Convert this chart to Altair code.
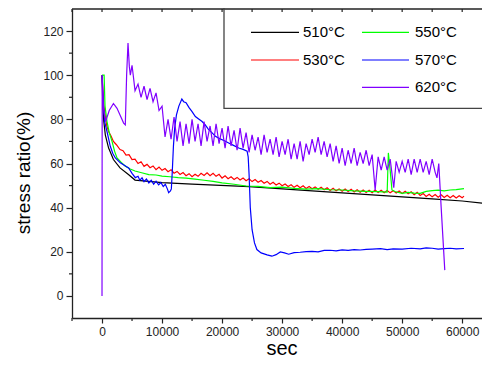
import altair as alt
import pandas as pd

# ---------------- data ----------------
t510 = [0, 150, 300, 550, 1100, 1900, 3000, 4400, 5500, 10000, 15000, 24500, 35000, 45000, 55000, 60000, 65000]
v510 = [100, 85, 79, 73, 67, 61.8, 58, 55, 52.5, 51.3, 50.7, 49.5, 47.6, 45.8, 44, 43, 41.6]

t530 = [0, 300, 550, 800, 1100, 1500, 1900, 2400, 3000, 3500, 4000, 4500, 5000, 5500, 6000, 6500,
        7000, 7500, 8000, 8500, 9000, 9500, 10000, 10500, 11000, 11500, 12000, 12500, 13000, 13500,
        14000, 14500, 15000, 15500, 16000, 16500, 17000, 17500, 18000, 18500, 19000, 19500, 20000,
        20500, 21000, 21500, 22000, 22500, 23000, 23500, 24000, 24500, 25000, 25500, 26000, 26500,
        27000, 27500, 28000, 28500, 29000, 29500, 30000, 30500, 31000, 31500, 32000, 32500, 33000,
        33500, 34000, 34500, 35000, 35500, 36000, 36500, 37000, 37500, 38000, 38500, 39000, 39500,
        40000, 40500, 41000, 41500, 42000, 42500, 43000, 43500, 44000, 44500, 45000, 45500, 46000,
        46500, 47000, 47500, 48000, 48500, 49000, 49500, 50000, 50500, 51000, 51500, 52000, 52500,
        53000, 53500, 54000, 54500, 55000, 55500, 56000, 56500, 57000, 57500, 58000, 58500, 59000,
        59500, 60000, 60300]
v530 = [100, 86, 81.3, 77, 74.5, 72.5, 70, 68.5, 66.3, 65.8, 63.8, 64, 61.8, 62, 60, 60.8,
        58.7, 59.6, 58.1, 58.9, 57.2, 58.4, 56.9, 57.7, 56.3, 57.2, 55.6, 56.4, 55, 55.9,
        54.5, 55.4, 54, 55.1, 54.2, 55.6, 54.6, 55.8, 54.5, 55.6, 54.2, 55.1, 53.4,
        54.4, 53.1, 54, 52.8, 53.7, 52.5, 53.4, 52.2, 53.1, 51.8, 52.7, 51.5, 52.3,
        51.1, 51.9, 50.6, 51.5, 50.3, 51.1, 49.9, 50.7, 49.6, 50.4, 49.2, 50.1, 49,
        49.9, 48.7, 49.6, 48.6, 49.4, 48.3, 49.2, 48.1, 49, 47.8, 48.8, 47.6, 48.5,
        47.4, 48.4, 47.3, 48.3, 47.1, 48.1, 47, 48, 46.9, 47.9, 46.8, 48, 46.9,
        47.9, 46.8, 47.8, 46.7, 47.7, 46.6, 47.5, 46.4, 47.4, 46.3, 47.2, 45.9, 46.9,
        45.5, 46.4, 45.1, 46.1, 44.9, 45.9, 44.7, 45.8, 44.6, 45.6, 44.5, 45.5, 44.4,
        45.4, 44.5, 45.2]

t550 = [0, 350, 500, 830, 1200, 1670, 2100, 2500, 3200, 3900, 4700, 5500, 6600, 7800, 9000, 10000,
        11300, 12700, 14000, 15500, 17000, 18500, 20000, 22000, 24000, 26000, 28000, 30000, 32000,
        34000, 36000, 38000, 40000, 42000, 44000, 46000, 47500, 47700, 48000, 48300, 48800, 50000,
        51000, 52000, 53000, 54000, 55000, 56000, 57000, 58000, 59000, 60300]
v550 = [100, 100, 86, 79, 74, 70, 65.5, 62.5, 60.5, 58.8, 57.5, 56.6, 55.8, 55, 54.8, 54.3,
        54, 53.6, 53.4, 52.9, 52.4, 51.9, 51.2, 50.6, 49.8, 49.6, 49.1, 49.3, 48.7,
        48.4, 48.6, 48.1, 48, 47.6, 47.4, 47.3, 47, 64.8, 57, 48, 47.3, 46.5,
        46.9, 46.6, 46.5, 47.4, 47.7, 47.9, 47.6, 48, 48.2, 48.6]

t570 = [0, 200, 430, 830, 1380, 1800, 2220, 3050, 3700, 4430, 5000, 5550, 6000, 6300, 6670, 7000,
        7400, 7800, 8200, 8600, 9000, 9430, 9800, 10200, 10550, 10900, 11100, 11400, 11550, 11700,
        11900, 12100, 12400, 12800, 13300, 13600, 14000, 14500, 15000, 15550, 16100, 16670, 17200,
        17700, 18300, 18900, 19500, 20300, 21100, 21900, 22770, 23500, 24170, 24350, 24500, 24700,
        25000, 25400, 25800, 26500, 27500, 28300, 29000, 29700, 30400, 31100, 32000, 33000, 34000,
        35000, 36000, 37000, 38000, 39000, 40000, 41000, 42000, 43000, 44000, 45000, 46400, 47500,
        48500, 50000, 51500, 53000, 54000, 55000, 56000, 57000, 58000, 59000, 60300]
v570 = [100, 88, 79, 74.5, 67.8, 64.5, 62.5, 60.3, 59.2, 58, 55.5, 53.6, 54.2, 52.4, 53.5, 51.8,
        53, 51.2, 52.4, 50.6, 52, 50.3, 51.4, 49.6, 50.6, 48.4, 46.8, 47.6, 48.5, 56,
        68, 76, 82, 86, 89.2, 88, 87.5, 85.3, 83.5, 81.3, 80.2, 79, 77.5,
        75.6, 74, 72.3, 71.4, 70.4, 69.3, 68.2, 67, 66.4, 65.6, 63, 55, 40,
        30, 24, 21, 19.5, 18.6, 18, 18.7, 19.9, 19.5, 18.9, 19.6, 19.8, 20.1,
        20.2, 20, 20.6, 20.7, 20.4, 20.9, 20.6, 21, 20.8, 21.1, 21.2, 21.4, 21,
        21.3, 21.2, 21.6, 21.3, 21.8, 21.6, 21.2, 21.4, 21.6, 21.3, 21.5]

t620 = [0, 30, 250, 600, 1200, 1900, 2500, 3000, 3600, 3880, 4100, 4330, 4550, 4720, 5000, 5200,
        5500, 6000, 6500, 7000, 7500, 8000, 8500, 9000, 9500, 10000, 10500, 11000, 11500, 12000,
        12500, 13000, 13500, 14000, 14500, 15000, 15500, 16000, 16500, 17000, 17500, 18000, 18500,
        19000, 19500, 20000, 20500, 21000, 21500, 22000, 22500, 23000, 23500, 24000, 24500, 25000,
        25500, 26000, 26500, 27000, 27500, 28000, 28500, 29000, 29500, 30000, 30500, 31000, 31500,
        32000, 32500, 33000, 33500, 34000, 34500, 35000, 35500, 36000, 36500, 37000, 37500, 38000,
        38500, 39000, 39500, 40000, 40500, 41000, 41500, 42000, 42500, 43000, 43500, 44000, 44500,
        45000, 45500, 46000, 46500, 47000, 47500, 48000, 48600, 49000, 49500, 50000, 50500, 51000,
        51500, 52000, 52500, 53000, 53500, 54000, 54500, 55000, 55500, 55800, 56100, 56500, 57100]
v620 = [0, 100, 85, 79, 84, 87.2, 85, 82, 78.3, 77.5, 100, 114.6, 104, 100, 104.5, 100,
        93, 96, 90, 95, 89, 94, 88, 92, 84, 86, 72, 80, 71, 81,
        70, 79, 68, 78, 69, 80, 70, 78, 68, 79, 70, 77, 68,
        78, 69, 76, 67, 77, 68, 75, 66, 76, 67, 74, 65, 73,
        66, 72, 64, 73, 65, 71, 64, 72, 63, 70, 64, 71, 62,
        69, 62, 70, 61, 69, 64, 71, 65, 72, 64, 70, 63, 69,
        61, 68, 60, 67, 59, 66, 60, 67, 59, 65, 60, 66, 59,
        64, 48, 63, 57, 63, 57, 62, 49, 61, 56, 61, 56, 62,
        55, 62, 56, 62, 56, 61, 55, 62, 56, 53.5, 60, 40, 11.7]

labels = ["510°C", "530°C", "550°C", "570°C", "620°C"]
colors = ["#000000", "#ff0000", "#00ff00", "#0000ff", "#8000ff"]

x_major = [0, 10000, 20000, 30000, 40000, 50000, 60000]
x_minor = [-5000, 5000, 15000, 25000, 35000, 45000, 55000]
x_top = [-5000, 0, 5000, 10000, 15000, 20000, 25000, 30000, 35000, 40000, 45000, 50000, 55000, 60000]
y_major = [0, 20, 40, 60, 80, 100, 120]
y_minor = [10, 30, 50, 70, 90, 110]

x_title = "sec"
y_title = "stress ratio(%)"

# legend layout (column-wise, as in the original)
leg_label = labels
leg_color = colors
leg_x1 = [179, 179, 290, 290, 290]
leg_x2 = [227, 227, 337, 337, 337]
leg_tx = [231, 231, 343, 343, 343]
leg_y = [23.3, 51, 23.3, 51, 78.3]

W, H = 410, 309
FONT = "Liberation Sans"
AX = "#222222"

x_scale = alt.Scale(domain=[-5000, 63300], nice=False, zero=False)
y_scale = alt.Scale(domain=[-10, 130], nice=False, zero=False)

xa = alt.Axis(values=x_major, format="d", title=None, labelFontSize=12, labelFont=FONT,
              labelColor=AX, tickSize=5, tickColor=AX, domainColor=AX, domainWidth=1.3,
              tickWidth=1.2, labelPadding=3, grid=False)
ya = alt.Axis(values=y_major, format="d", title=None, labelFontSize=12,
              labelFont=FONT, labelColor=AX, tickSize=6, tickColor=AX, domainColor=AX,
              domainWidth=1.3, tickWidth=1.2, labelPadding=3, grid=False)

series_data = [(t510, v510), (t530, v530), (t550, v550), (t570, v570), (t620, v620)]

layers = []
for idx, (t, v) in enumerate(series_data):
    df = pd.DataFrame({"t": t, "v": v})
    layers.append(
        alt.Chart(df).mark_line(color=colors[idx], strokeWidth=1.2, clip=True).encode(
            x=alt.X("t:Q", scale=x_scale, axis=xa),
            y=alt.Y("v:Q", scale=y_scale, axis=ya),
        )
    )

dummy = pd.DataFrame({"a": [0]})
top_line = alt.Chart(dummy).mark_rule(color=AX, strokeWidth=1.3).encode(
    x=alt.value(0), x2=alt.value(W), y=alt.value(0))
top_ticks = alt.Chart(pd.DataFrame({"t": x_top})).mark_rule(color=AX, strokeWidth=1.2).encode(
    x=alt.X("t:Q", scale=x_scale, axis=xa), y=alt.value(0), y2=alt.value(3))
bot_minor = alt.Chart(pd.DataFrame({"t": x_minor})).mark_rule(color=AX, strokeWidth=1.2).encode(
    x=alt.X("t:Q", scale=x_scale, axis=xa), y=alt.value(H), y2=alt.value(H + 3))
left_minor = alt.Chart(pd.DataFrame({"v": y_minor})).mark_rule(color=AX, strokeWidth=1.2).encode(
    y=alt.Y("v:Q", scale=y_scale, axis=ya), x=alt.value(-3), x2=alt.value(0))

x_title_mark = alt.Chart(dummy).mark_text(align="center", baseline="alphabetic", fontSize=20,
                                          font=FONT, color="#000000", text=x_title).encode(
    x=alt.value(210), y=alt.value(H + 37))
y_title_mark = alt.Chart(dummy).mark_text(align="center", baseline="middle", fontSize=19,
                                          font=FONT, color="#000000", angle=270,
                                          text=y_title).encode(
    x=alt.value(-48), y=alt.value(164))

leg_box = alt.Chart(dummy).mark_rect(fillOpacity=0, stroke="#444444", strokeWidth=1.3).encode(
    x=alt.value(152), x2=alt.value(W + 5), y=alt.value(-2), y2=alt.value(99.3))

leg_layers = []
for i in range(len(leg_label)):
    leg_layers.append(
        alt.Chart(dummy).mark_rule(strokeWidth=1.2, color=leg_color[i]).encode(
            x=alt.value(leg_x1[i]), x2=alt.value(leg_x2[i]), y=alt.value(leg_y[i]))
    )
    leg_layers.append(
        alt.Chart(dummy).mark_text(align="left", baseline="middle", fontSize=15, font=FONT,
                                   color="#000000", text=leg_label[i]).encode(
            x=alt.value(leg_tx[i]), y=alt.value(leg_y[i]))
    )

chart = alt.layer(
    *layers, top_line, top_ticks, bot_minor, left_minor, x_title_mark, y_title_mark,
    leg_box, *leg_layers
).properties(
    width=W, height=H,
    padding={"left": 64, "top": 1, "right": 0, "bottom": 43},
    autosize=alt.AutoSizeParams(type="none"),
    background="white",
).configure_view(stroke=None)

chart.save("out.html", embed_options={"renderer": "svg", "actions": False})
